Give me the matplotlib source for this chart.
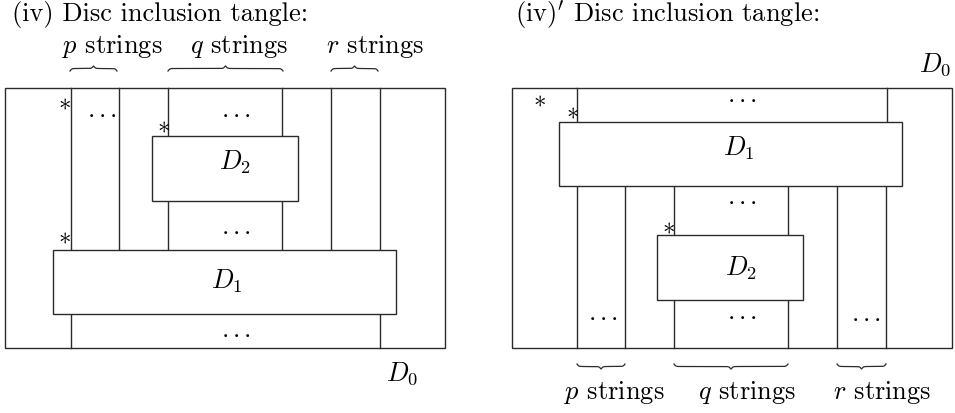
import numpy             as np
import matplotlib.pyplot as plt
from matplotlib.patches import Rectangle

plt.rcParams['font.family'] = 'cmr10'
plt.rcParams['mathtext.fontset'] = 'cm'
plt.rcParams['axes.unicode_minus'] = False

# ---- geometry of the two tangles (pixel units, y grows downwards) ----
# boxes are (x0, y0, x1, y1)
L_outer = (5, 89, 445, 349)
L_D2    = (152, 137, 298, 202)
L_D1    = (53, 251, 396, 315)
L_long  = [71, 119, 331, 380]      # strings from top edge to D1
L_q     = [168, 282]               # strings through D2
L_under = [71, 380]                # strings below D1
L_dots  = [(102, 113), (236, 113), (236, 230), (236, 333)]
L_stars = [(64, 103), (163, 126), (64, 237)]
L_brace = [(70, 117), (168, 283), (331, 378)]
L_blab  = [(112, 47), (239, 47), (375, 47)]

R_outer = (512, 89, 952, 349)
R_D1    = (559, 123, 902, 187)
R_D2    = (657, 236, 803, 301)
R_top   = [577, 887]               # strings above D1
R_long  = [577, 625, 837, 886]     # strings from D1 to bottom edge
R_q     = [674, 788]               # strings through D2
R_dots  = [(742, 98), (742, 200), (603, 316), (742, 315), (866, 317)]
R_stars = [(539, 100), (572, 112), (668, 227)]
R_brace = [(577, 625), (674, 788), (837, 886)]
R_blab  = [(614, 393), (747, 393), (882, 393)]

string_names = ["$p$ strings", "$q$ strings", "$r$ strings"]

LC = '#2b2b2b'
LW = 1.0
FS = 19
DOTS = r"${\cdot}\,{\cdot}\,{\cdot}$"


def box(ax, b, z=3):
    x0, y0, x1, y1 = b
    ax.add_patch(Rectangle((x0, y0), x1 - x0, y1 - y0, fill=True,
                           facecolor='white', edgecolor=LC, lw=LW, zorder=z))


def vline(ax, x, y0, y1):
    ax.plot([x, x], [y0, y1], color=LC, lw=LW, zorder=2)


def brace(ax, x0, x1, y, h, up=True):
    # curly brace drawn from two sigmoids
    xs = np.linspace(x0, x1, 400)
    half = xs[:200]
    beta = 1.1
    yh = 1/(1+np.exp(-beta*(half-half[0]))) + 1/(1+np.exp(-beta*(half-half[-1])))
    yy = np.concatenate([yh, yh[::-1]]) - 0.5
    sgn = -1 if up else 1
    ax.plot(xs, y + sgn*h*yy, color=LC, lw=0.9, zorder=2)


fig = plt.figure(figsize=(9.55, 4.14), dpi=100)
ax = fig.add_axes([0, 0, 1, 1])
ax.set_xlim(0, 955)
ax.set_ylim(414, 0)
ax.axis('off')

# ---- left: (iv) ----
ax.text(12, 15, "(iv) Disc inclusion tangle:", fontsize=FS, va='center', ha='left')
box(ax, L_outer, z=1)
for x in L_long:
    vline(ax, x, L_outer[1], L_D1[1])
for x in L_q:
    vline(ax, x, L_outer[1], L_D2[1])
    vline(ax, x, L_D2[3], L_D1[1])
for x in L_under:
    vline(ax, x, L_D1[3], L_outer[3])
box(ax, L_D2)
box(ax, L_D1)
ax.text(235, 162, "$D_2$", fontsize=FS, ha='center', va='center', zorder=4)
ax.text(227, 281, "$D_1$", fontsize=FS, ha='center', va='center', zorder=4)
ax.text(402, 374, "$D_0$", fontsize=FS, ha='center', va='center')
for x, y in L_dots:
    ax.text(x, y, DOTS, fontsize=FS, ha='center', va='center')
for x, y in L_stars:
    ax.text(x, y, r"$\ast$", fontsize=18, ha='center', va='center')
for (x0, x1), (tx, ty), s in zip(L_brace, L_blab, string_names):
    brace(ax, x0, x1, 72, 5, up=True)
    ax.text(tx, ty, s, fontsize=FS, ha='center', va='center')

# ---- right: (iv)' ----
ax.text(515, 15, "(iv)$'$ Disc inclusion tangle:", fontsize=FS, va='center', ha='left')
box(ax, R_outer, z=1)
for x in R_top:
    vline(ax, x, R_outer[1], R_D1[1])
for x in R_long:
    vline(ax, x, R_D1[3], R_outer[3])
for x in R_q:
    vline(ax, x, R_D1[3], R_D2[1])
    vline(ax, x, R_D2[3], R_outer[3])
box(ax, R_D1)
box(ax, R_D2)
ax.text(739, 148, "$D_1$", fontsize=FS, ha='center', va='center', zorder=4)
ax.text(741, 268, "$D_2$", fontsize=FS, ha='center', va='center', zorder=4)
ax.text(935, 65, "$D_0$", fontsize=FS, ha='center', va='center')
for x, y in R_dots:
    ax.text(x, y, DOTS, fontsize=FS, ha='center', va='center')
for x, y in R_stars:
    ax.text(x, y, r"$\ast$", fontsize=18, ha='center', va='center')
for (x0, x1), (tx, ty), s in zip(R_brace, R_blab, string_names):
    brace(ax, x0, x1, 365, 5, up=False)
    ax.text(tx, ty, s, fontsize=FS, ha='center', va='center')

plt.savefig("out.png", dpi=100)
plt.close()
